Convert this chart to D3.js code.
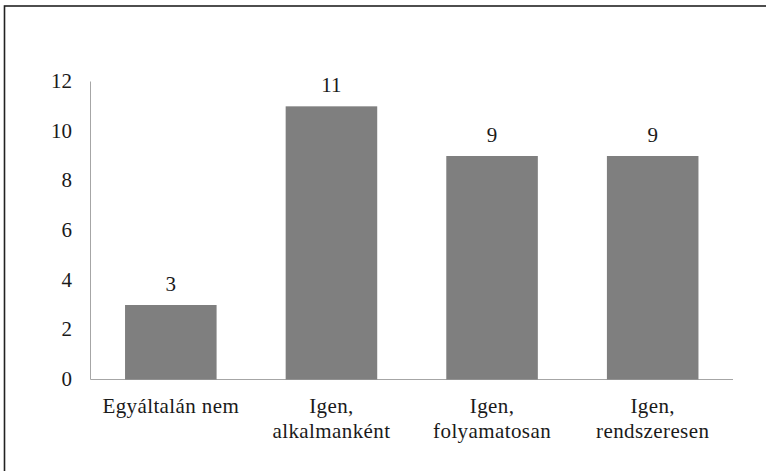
<!DOCTYPE html>
<html>
<head>
<meta charset="utf-8">
<script src="https://cdn.jsdelivr.net/npm/d3@7"></script>
<style>
  body { margin: 0; background: #fff; }
</style>
</head>
<body>
<svg id="chart" width="766" height="471"></svg>
<script>
  // data
  var categories = ['Egyáltalán nem', 'Igen, alkalmanként', 'Igen, folyamatosan', 'Igen, rendszeresen'];
  var labelLines = [['Egyáltalán nem'], ['Igen,', 'alkalmanként'], ['Igen,', 'folyamatosan'], ['Igen,', 'rendszeresen']];
  var values = [3, 11, 9, 9];
  var yTicks = [0, 2, 4, 6, 8, 10, 12];

  var FONT = "'Liberation Serif', 'DejaVu Serif', 'Times New Roman', serif";

  var svg = d3.select('#chart')
    .style('font-family', FONT);

  // outer frame (only top and left edges fall inside the picture)
  svg.append('rect')
    .attr('x', 4.5).attr('y', 6)
    .attr('width', 800).attr('height', 500)
    .attr('fill', 'none')
    .attr('stroke', '#222')
    .attr('stroke-width', 1.6);

  var margin = { left: 90.5, right: 733, top: 81.5, bottom: 379.5 };

  var x = d3.scaleBand()
    .domain(categories)
    .range([margin.left, margin.right])
    .paddingInner(0.43)
    .paddingOuter(0.215);

  var y = d3.scaleLinear()
    .domain([0, 12])
    .range([margin.bottom, margin.top]);

  // axes
  svg.append('line')
    .attr('x1', margin.left).attr('x2', margin.left)
    .attr('y1', margin.top).attr('y2', margin.bottom)
    .style('stroke', '#a6a6a6').style('stroke-width', 1);

  svg.append('line')
    .attr('x1', margin.left).attr('x2', margin.right)
    .attr('y1', margin.bottom).attr('y2', margin.bottom)
    .style('stroke', '#a6a6a6').style('stroke-width', 1.2);

  function txt(sel) {
    return sel.attr('font-family', FONT)
      .attr('font-size', 21)
      .attr('fill', '#1a1a1a');
  }

  svg.append('g').selectAll('text')
    .data(yTicks)
    .enter().append('text')
    .call(txt)
    .attr('x', 72)
    .attr('y', function(d) { return y(d) + 6.5; })
    .attr('text-anchor', 'end')
    .text(function(d) { return d; });

  // bars
  svg.append('g').selectAll('rect')
    .data(values)
    .enter().append('rect')
    .attr('x', function(d, i) { return x(categories[i]); })
    .attr('y', function(d) { return y(d); })
    .attr('width', x.bandwidth())
    .attr('height', function(d) { return y(0) - y(d); })
    .attr('fill', '#7f7f7f');

  // value labels
  svg.append('g').selectAll('text')
    .data(values)
    .enter().append('text')
    .call(txt)
    .attr('x', function(d, i) { return x(categories[i]) + x.bandwidth() / 2; })
    .attr('y', function(d) { return y(d) - 14; })
    .attr('text-anchor', 'middle')
    .text(function(d) { return d; });

  // category labels
  var catG = svg.append('g');
  labelLines.forEach(function(lines, i) {
    var t = catG.append('text')
      .call(txt)
      .attr('letter-spacing', 0.4)
      .attr('text-anchor', 'middle');
    lines.forEach(function(line, j) {
      t.append('tspan')
        .attr('x', x(categories[i]) + x.bandwidth() / 2)
        .attr('y', 413 + j * 25)
        .text(line);
    });
  });
</script>
</body>
</html>
